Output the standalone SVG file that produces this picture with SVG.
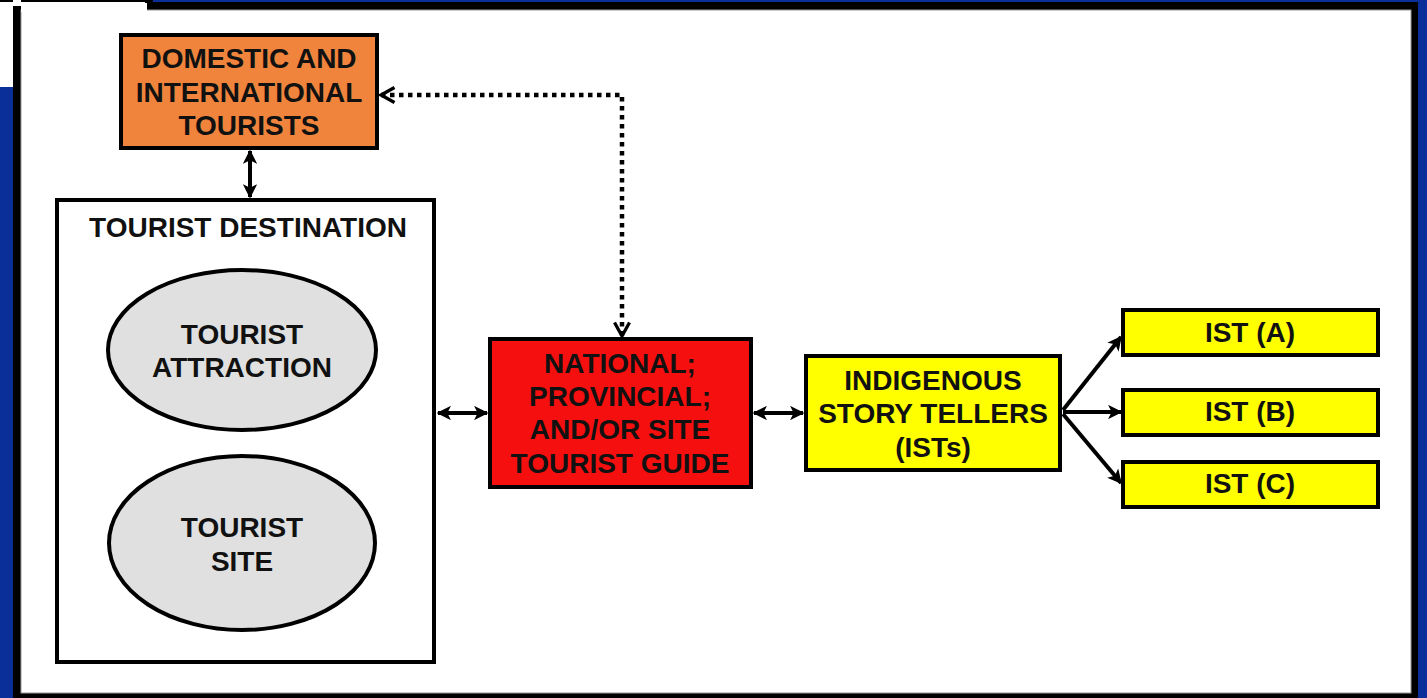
<svg xmlns="http://www.w3.org/2000/svg" width="1427" height="698" viewBox="0 0 1427 698">
<style>
.box{stroke:#000;stroke-width:4}
.t{font-family:"Liberation Sans",Arial,sans-serif;font-weight:bold;font-size:28px;fill:#111;text-anchor:middle}
.c{stroke:#000;stroke-width:4;fill:none}
.d{stroke:#000;stroke-width:4.5;fill:none;stroke-dasharray:4.5 4.5}
</style>
<defs>
<marker id="ah" viewBox="0 0 10 10" refX="9" refY="5" markerWidth="3.6" markerHeight="3.6" orient="auto-start-reverse" markerUnits="strokeWidth">
<path d="M0,0 L10,5 L0,10 L2.5,5 Z" fill="#000"/>
</marker>
<marker id="ov" viewBox="0 0 12 12" refX="10" refY="6" markerWidth="4" markerHeight="4" orient="auto-start-reverse" markerUnits="strokeWidth">
<path d="M1,1 L10,6 L1,11" fill="none" stroke="#000" stroke-width="2.2"/>
</marker>
</defs>
<g id="frame">
<rect x="0" y="0" width="1427" height="698" fill="#0a2f99"/>
<rect x="13" y="2" width="1405" height="696" fill="#000"/>
<rect x="21" y="10" width="1390" height="683" fill="#fff" stroke="#999" stroke-width="1"/>
<rect x="0" y="0" width="13" height="87" fill="#fff"/>
<rect x="21" y="0" width="126" height="12" fill="#fff"/>
<rect x="0" y="0" width="150" height="2" fill="#000"/>
<rect x="13" y="0" width="8" height="6" fill="#fff"/>
<rect x="145" y="0" width="8" height="3" fill="#000"/>
</g>
<g id="connectors">
<line class="c" x1="250" y1="151" x2="250" y2="197" marker-start="url(#ah)" marker-end="url(#ah)"/>
<line class="c" x1="438" y1="413" x2="487" y2="413" marker-start="url(#ah)" marker-end="url(#ah)"/>
<line class="c" x1="754" y1="413" x2="803" y2="413" marker-start="url(#ah)" marker-end="url(#ah)"/>
<polyline class="d" points="381,95 622,95 622,336" marker-start="url(#ov)" marker-end="url(#ov)"/>
<line class="c" x1="1063" y1="410" x2="1121" y2="337" marker-end="url(#ah)"/>
<line class="c" x1="1063" y1="412" x2="1121" y2="412" marker-end="url(#ah)"/>
<line class="c" x1="1063" y1="414" x2="1121" y2="483" marker-end="url(#ah)"/>
</g>
<g id="tourists">
<rect class="box" x="121" y="35" width="256" height="113" fill="#f0843c"/>
<text class="t" x="249" y="68">DOMESTIC AND</text>
<text class="t" x="249" y="102">INTERNATIONAL</text>
<text class="t" x="249" y="135">TOURISTS</text>
</g>
<g id="destination">
<rect class="box" x="57" y="200" width="377" height="462" fill="#fff"/>
<text class="t" x="248" y="237">TOURIST DESTINATION</text>
</g>
<g id="attraction">
<ellipse class="box" cx="242" cy="350" rx="134" ry="80" fill="#e0e0e0"/>
<text class="t" x="242" y="344">TOURIST</text>
<text class="t" x="242" y="377">ATTRACTION</text>
</g>
<g id="site">
<ellipse class="box" cx="242" cy="543" rx="133" ry="87" fill="#e0e0e0"/>
<text class="t" x="242" y="537">TOURIST</text>
<text class="t" x="242" y="571">SITE</text>
</g>
<g id="guide">
<rect class="box" x="490" y="339" width="261" height="148" fill="#f50f0f"/>
<text class="t" x="620" y="373">NATIONAL;</text>
<text class="t" x="620" y="406">PROVINCIAL;</text>
<text class="t" x="620" y="439">AND/OR SITE</text>
<text class="t" x="620" y="473">TOURIST GUIDE</text>
</g>
<g id="ists">
<rect class="box" x="806" y="356" width="254" height="114" fill="#ffff00"/>
<text class="t" x="933" y="390">INDIGENOUS</text>
<text class="t" x="933" y="423">STORY TELLERS</text>
<text class="t" x="933" y="457">(ISTs)</text>
</g>
<g id="istA">
<rect class="box" x="1123" y="310" width="255" height="45" fill="#ffff00"/>
<text class="t" x="1250" y="342">IST (A)</text>
</g>
<g id="istB">
<rect class="box" x="1123" y="390" width="255" height="45" fill="#ffff00"/>
<text class="t" x="1250" y="421">IST (B)</text>
</g>
<g id="istC">
<rect class="box" x="1123" y="462" width="255" height="45" fill="#ffff00"/>
<text class="t" x="1250" y="493">IST (C)</text>
</g>
</svg>
